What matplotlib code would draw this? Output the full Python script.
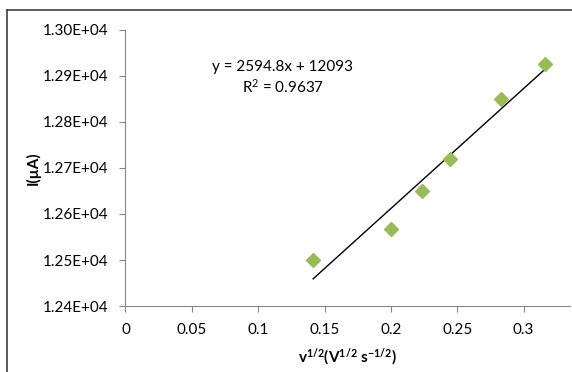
import numpy as np
import matplotlib
matplotlib.use("Agg")
import matplotlib.pyplot as plt
from matplotlib.ticker import FuncFormatter
from matplotlib.lines import Line2D

# data: scan rate square root vs peak current
sqrt_v = [0.1414, 0.2000, 0.2236, 0.2449, 0.2828, 0.3162]
current = [12500, 12567, 12651, 12720, 12851, 12927]
x_ticks = [0, 0.05, 0.1, 0.15, 0.2, 0.25, 0.3]
y_ticks = [12400, 12500, 12600, 12700, 12800, 12900, 13000]

plt.rcParams["font.family"] = ["Lato", "DejaVu Sans"]
plt.rcParams["mathtext.default"] = "regular"

fig = plt.figure(figsize=(5.72, 3.72), dpi=100)
ax = fig.add_axes([0.2194, 0.1774, 0.7771, 0.742])

ax.plot(sqrt_v, current, linestyle="none", marker="D", markersize=7,
        color="#9BBB59", zorder=3)

slope, intercept = np.polyfit(sqrt_v, current, 1)
xs = np.array([min(sqrt_v), max(sqrt_v)])
ax.plot(xs, slope * xs + intercept, color="black", linewidth=1, zorder=2)

ax.text(0.1185, 12920, "y = 2594.8x + 12093", ha="center", va="center", fontsize=11)
ax.text(0.1185, 12876, "R$^2$ = 0.9637", ha="center", va="center", fontsize=11)

ax.set_xlim(0, 0.335)
ax.set_ylim(12400, 13000)
ax.set_xticks(x_ticks)
ax.set_yticks(y_ticks)
ax.xaxis.set_major_formatter(FuncFormatter(lambda v, p: f"{v:g}"))
ax.yaxis.set_major_formatter(FuncFormatter(lambda v, p: f"{v:.2E}"))
for s in ["top", "right"]:
    ax.spines[s].set_visible(False)
for s in ["left", "bottom"]:
    ax.spines[s].set_color("#868686")
    ax.spines[s].set_linewidth(0.8)
ax.tick_params(direction="out", length=4, color="#868686", labelsize=11)
ax.tick_params(axis="x", pad=8)
ax.tick_params(axis="y", pad=8.5)

ax.set_xlabel("v$^{1/2}$(V$^{1/2}$ s$^{-1/2}$)", fontweight="bold", fontsize=11, labelpad=7)
ax.set_ylabel("I(µA)", fontweight="bold", fontsize=11, labelpad=1)

# outer frame (only top and left edges visible)
fig.lines.append(Line2D([7 / 572, 1], [1 - 10 / 372, 1 - 10 / 372],
                        transform=fig.transFigure, color="#404040", linewidth=1.2))
fig.lines.append(Line2D([7 / 572, 7 / 572], [0, 1 - 10 / 372],
                        transform=fig.transFigure, color="#404040", linewidth=1.2))

fig.savefig("out.png", dpi=100)
